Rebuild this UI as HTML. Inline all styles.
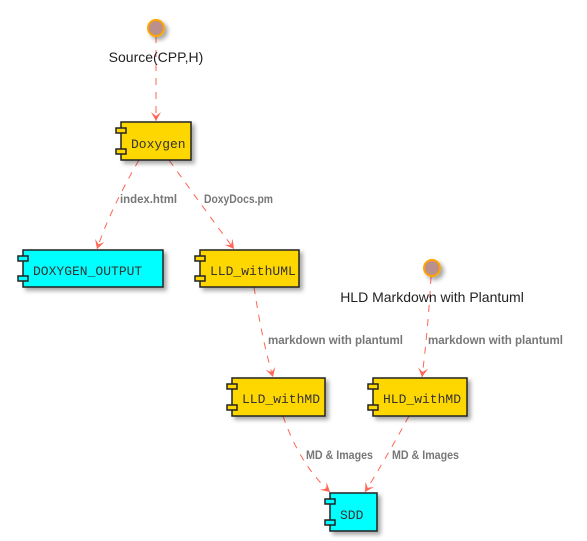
<!DOCTYPE html>
<html><head><style>
html,body{margin:0;padding:0;background:#fff;width:587px;height:541px;overflow:hidden}
</style></head><body>
<svg width="587" height="541" xmlns="http://www.w3.org/2000/svg">
<defs>
<filter id="sh" x="-20%" y="-20%" width="150%" height="150%"><feDropShadow dx="3" dy="3" stdDeviation="2" flood-color="#000" flood-opacity="0.35"/></filter>
<marker id="ar" markerWidth="12" markerHeight="12" refX="9" refY="5" orient="auto" markerUnits="userSpaceOnUse"><path d="M0,0 L9,5 L0,10 L4,5 Z" fill="#FF6655"/></marker>
</defs>
<g stroke="#FF6655" stroke-width="1" stroke-dasharray="7,7" fill="none" marker-end="url(#ar)">
<path d="M156,36 L156,121"/>
<path d="M139,160 Q110,210 97,249"/>
<path d="M169,160 Q205,210 234,249"/>
<path d="M254,287 Q262,340 273,377"/>
<path d="M431,277 Q428,330 422,377"/>
<path d="M283,416 Q300,465 330,492"/>
<path d="M409,416 Q385,460 365,492"/>
</g>
<g font-family="'Liberation Sans Narrow','Liberation Sans',sans-serif" font-weight="bold" font-size="12" fill="#777" lengthAdjust="spacingAndGlyphs">
<text x="120" y="203" textLength="57" lengthAdjust="spacingAndGlyphs">index.html</text>
<text x="204" y="203" textLength="69" lengthAdjust="spacingAndGlyphs">DoxyDocs.pm</text>
<text x="268" y="344" textLength="135" lengthAdjust="spacingAndGlyphs">markdown with plantuml</text>
<text x="428" y="344" textLength="135" lengthAdjust="spacingAndGlyphs">markdown with plantuml</text>
<text x="306" y="459" textLength="67" lengthAdjust="spacingAndGlyphs">MD &amp; Images</text>
<text x="392" y="459" textLength="67" lengthAdjust="spacingAndGlyphs">MD &amp; Images</text>
</g>
<g filter="url(#sh)">
<circle cx="156" cy="28" r="8" fill="#BC8F8F" stroke="#FFA500" stroke-width="2"/>
<circle cx="432" cy="268" r="8" fill="#BC8F8F" stroke="#FFA500" stroke-width="2"/>
</g>
<g font-family="'Liberation Sans',sans-serif" font-size="14" fill="#222" text-anchor="middle">
<text x="156" y="62">Source(CPP,H)</text>
<text x="432" y="302">HLD Markdown with Plantuml</text>
</g>
<g stroke="#222" stroke-width="1.5" font-family="'Liberation Mono',monospace" font-size="13">
<g filter="url(#sh)">
<rect x="121" y="122" width="70" height="38" fill="#FFD700"/>
<rect x="23" y="250" width="140" height="37" fill="#00FFFF"/>
<rect x="200" y="250" width="99" height="37" fill="#FFD700"/>
<rect x="232" y="378" width="93" height="38" fill="#FFD700"/>
<rect x="373" y="378" width="94" height="38" fill="#FFD700"/>
<rect x="330" y="493" width="47" height="38" fill="#00FFFF"/>
</g>
<rect x="116" y="128" width="10" height="5" fill="#FFD700"/><rect x="116" y="149" width="10" height="5" fill="#FFD700"/>
<rect x="18" y="256" width="10" height="5" fill="#00FFFF"/><rect x="18" y="276" width="10" height="5" fill="#00FFFF"/>
<rect x="195" y="256" width="10" height="5" fill="#FFD700"/><rect x="195" y="276" width="10" height="5" fill="#FFD700"/>
<rect x="227" y="384" width="10" height="5" fill="#FFD700"/><rect x="227" y="405" width="10" height="5" fill="#FFD700"/>
<rect x="368" y="384" width="10" height="5" fill="#FFD700"/><rect x="368" y="405" width="10" height="5" fill="#FFD700"/>
<rect x="325" y="499" width="10" height="5" fill="#00FFFF"/><rect x="325" y="520" width="10" height="5" fill="#00FFFF"/>
<g stroke="none" fill="#333">
<text x="131" y="148">Doxygen</text>
<text x="33" y="275">DOXYGEN_OUTPUT</text>
<text x="210" y="275">LLD_withUML</text>
<text x="242" y="403">LLD_withMD</text>
<text x="383" y="403">HLD_withMD</text>
<text x="340" y="519">SDD</text>
</g>
</g>
</svg>
</body></html>
